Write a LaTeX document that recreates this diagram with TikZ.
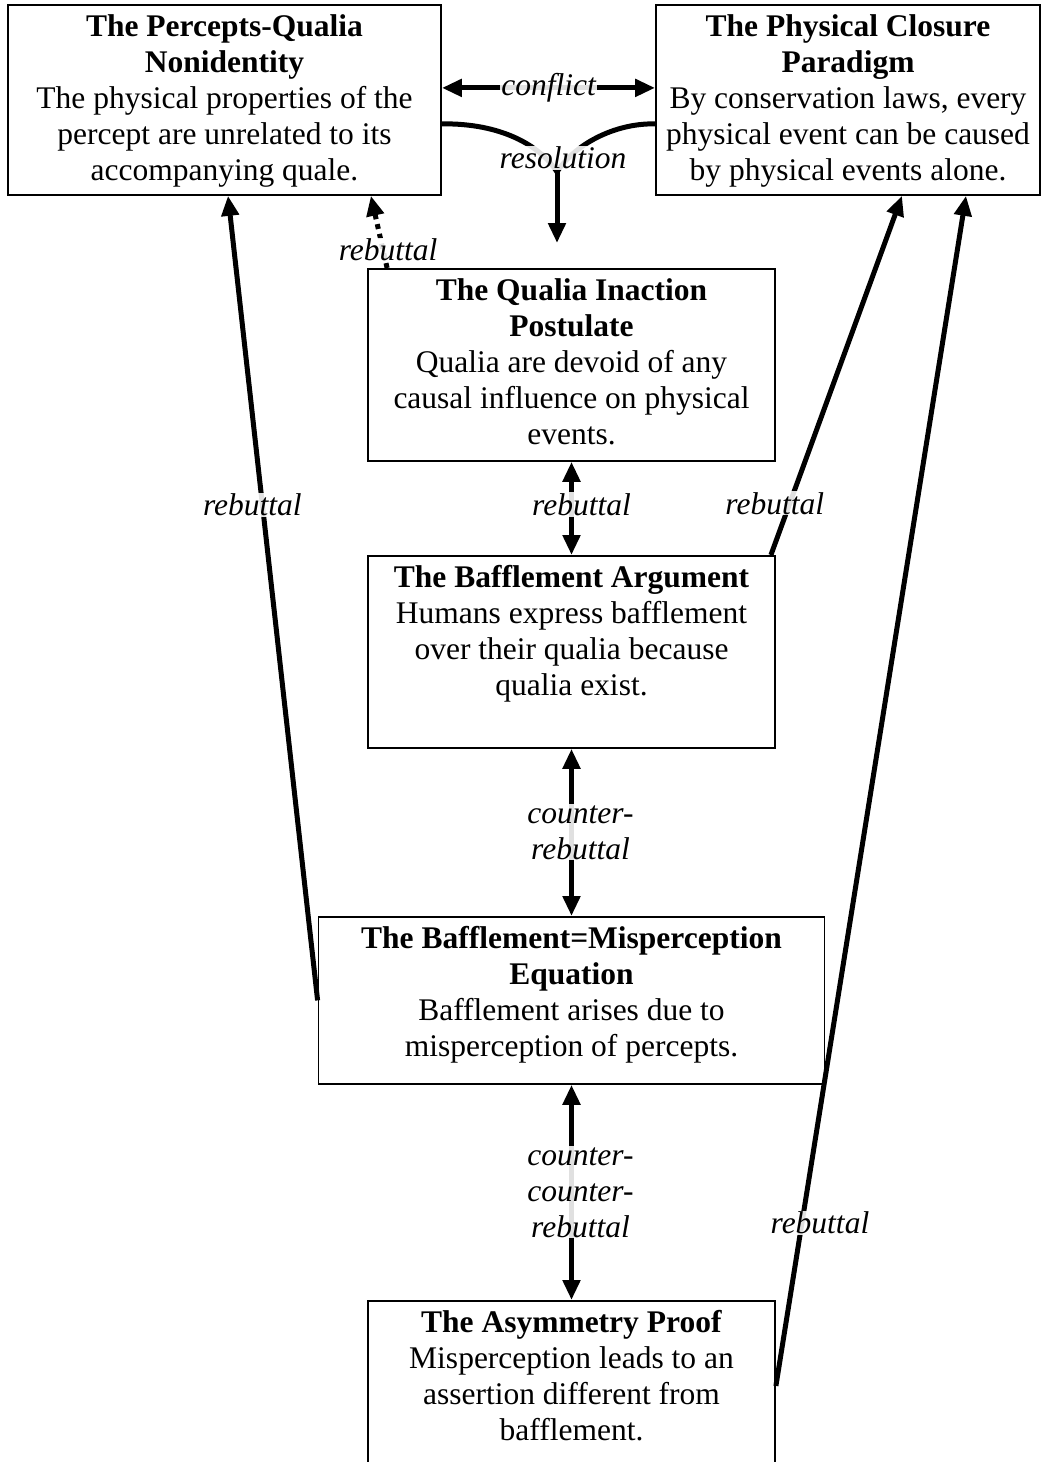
\documentclass[tikz,border=0pt]{standalone}
\usepackage{fontspec}
\setmainfont{Liberation Serif}
\usetikzlibrary{arrows.meta}
\begin{document}
\begin{tikzpicture}[x=1pt,y=-1pt,
    font=\fontsize{31.5}{36}\selectfont,
    box/.style={draw, line width=1.8pt, inner sep=0pt, anchor=north},
    boxtext/.style={anchor=north, align=center, inner sep=0pt, yshift=-10.5pt},
    link/.style={line width=5pt},
    oneway/.style={link, -{Triangle[length=20pt,width=17pt]}},
    twoway/.style={link, {Triangle[length=20pt,width=17pt]}-{Triangle[length=20pt,width=17pt]}},
    lbl/.style={fill=white, fill opacity=0.88, text opacity=1, inner sep=1pt, align=center,
        font=\fontsize{31.5}{36}\selectfont\itshape}]
    \useasboundingbox (0,0) rectangle (1044,1462);

    % boxes
    \node[box, minimum width=433, minimum height=190] (pq) at (224.5,4) {};
    \node[box, minimum width=384, minimum height=190] (pc) at (848,4) {};
    \node[box, minimum width=407, minimum height=192] (qi) at (571.5,268) {};
    \node[box, minimum width=407, minimum height=192] (ba) at (571.5,555) {};
    \node[box, minimum width=506, minimum height=167] (bm) at (571.5,916) {};
    \node[box, minimum width=407, minimum height=170] (ap) at (571.5,1300) {};

    \node[boxtext] (pqtext) at (pq.north) {\textbf{The Percepts-Qualia}\\\textbf{Nonidentity}\\The physical properties of the\\percept are unrelated to its\\accompanying quale.};
    \node[boxtext] (pctext) at (pc.north) {\textbf{The Physical Closure}\\\textbf{Paradigm}\\By conservation laws, every\\physical event can be caused\\by physical events alone.};
    \node[boxtext] (qitext) at (qi.north) {\textbf{The Qualia Inaction}\\\textbf{Postulate}\\Qualia are devoid of any\\causal influence on physical\\events.};
    \node[boxtext] (batext) at (ba.north) {\textbf{The Bafflement Argument}\\Humans express bafflement\\over their qualia because\\qualia exist.};
    \node[boxtext] (bmtext) at (bm.north) {\textbf{The Bafflement=Misperception}\\\textbf{Equation}\\Bafflement arises due to\\misperception of percepts.};
    \node[boxtext] (aptext) at (ap.north) {\textbf{The Asymmetry Proof}\\Misperception leads to an\\assertion different from\\bafflement.};

    % conflict and resolution
    \draw[twoway] ([yshift=12pt]pq.east) -- ([yshift=12pt]pc.west) node[lbl, midway] (conflict) {conflict};
    \coordinate (meet) at (557,172);
    \coordinate (resend) at (557,243);
    \draw[link] ([yshift=-24pt]pq.east) .. controls (500,123) and (540,145) .. (meet);
    \draw[link] ([yshift=-24pt]pc.west) .. controls (614,123) and (574,145) .. (meet);
    \draw[oneway] (meet) -- (resend);
    \node[lbl] (resolution) at (563,158) {resolution};

    % rebuttals
    \draw[oneway, dash pattern=on 5pt off 5pt] ([xshift=20pt]qi.north west) -- ([xshift=-71pt]pq.south east)
        node[lbl, pos=0.25, xshift=5pt] (reb1) {rebuttal};
    \draw[twoway] (qi.south) -- (ba.north) node[lbl, midway, xshift=10pt, yshift=4pt] (reb2) {rebuttal};
    \draw[oneway] ([xshift=-5pt]ba.north east) -- ([xshift=54pt]pc.south)
        node[lbl, pos=0.144, xshift=-15pt] (reb3) {rebuttal};
    \draw[oneway] (bm.west) -- ([xshift=3.5pt]pq.south)
        node[lbl, pos=0.616, xshift=-10pt] (reb4) {rebuttal};
    \draw[oneway] (ap.east) -- ([xshift=118pt]pc.south)
        node[lbl, pos=0.137, xshift=18pt] (reb5) {rebuttal};

    % counter-rebuttals
    \draw[twoway] (ba.south) -- (bm.north) node[lbl, midway, xshift=9pt] (crb) {counter-\\rebuttal};
    \draw[twoway] (bm.south) -- (ap.north) node[lbl, midway, xshift=9pt] (ccrb) {counter-\\counter-\\rebuttal};
\end{tikzpicture}
\end{document}
